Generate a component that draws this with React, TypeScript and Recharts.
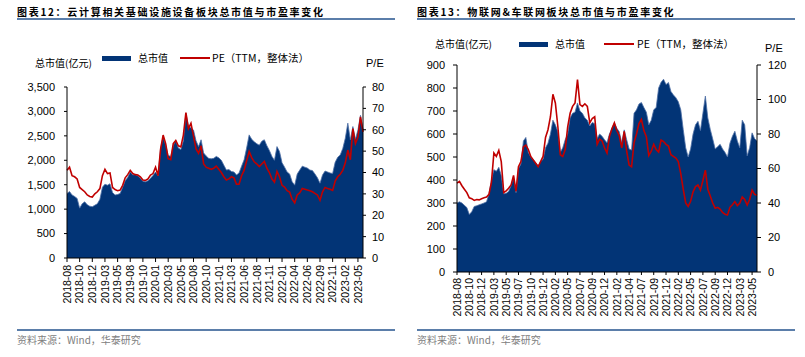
import React from 'react';
import { ComposedChart, Area, Line, XAxis, YAxis } from 'recharts';

// ---------- Chart 12 (cloud infrastructure) ----------
const cloudTickLabels = [
  '2018-08', '2018-10', '2018-12', '2019-03', '2019-05', '2019-08', '2019-10', '2020-01',
  '2020-03', '2020-05', '2020-08', '2020-10', '2021-01', '2021-03', '2021-06', '2021-08',
  '2021-11', '2022-01', '2022-04', '2022-06', '2022-09', '2022-11', '2023-02', '2023-05',
];
const cloudMarketCap = [
  1320, 1360, 1290, 1260, 1220, 1020, 1110, 1150, 1090, 1060,
  1050, 1080, 1110, 1200, 1450, 1510, 1490, 1520, 1340, 1290,
  1300, 1320, 1450, 1580, 1650, 1760, 1700, 1710, 1680, 1630,
  1570, 1560, 1580, 1630, 1690, 1760, 1680, 2250, 2480, 2320,
  2100, 2080, 2300, 2410, 2250, 2220, 2400, 2960, 2700, 2660,
  2620, 2400, 2280, 2420, 2150, 2090, 2040, 2030, 2040, 2080,
  2050, 2000, 1900, 1800, 1810, 1770, 1760, 1700, 1740, 1880,
  2010, 2250, 2520, 2430, 2380, 2340, 2310, 2390, 2420, 2300,
  2200, 2080, 2000, 2280, 2180, 1950, 1860, 1760, 1720, 1560,
  1490, 1720, 1800, 1880, 1860, 1840, 1800, 1790, 1720, 1640,
  1530, 1700, 1780, 1760, 1740, 1730, 1960, 2060, 2110, 2240,
  2450, 2760, 2420, 2690, 2430, 2620, 2920, 2630,
];
const cloudPE = [
  41, 42.5, 38.5, 38, 37, 33, 32, 31, 29.5, 28.8,
  28.5, 30, 31, 32.5, 38.5, 41.5, 39.5, 39.8, 33, 32,
  31.5, 31.8, 34, 37.5, 39, 41, 39.5, 39, 38.8, 38,
  36.5, 36.3, 37, 38.8, 39.5, 42.5, 38.5, 51, 57.5, 53.5,
  46.5, 46, 53.5, 55, 52.5, 52, 57.5, 68, 60.5, 63,
  57, 51, 49, 52.5, 44, 42.5, 42, 41.5, 42, 43,
  41.5, 40, 38, 36.5, 37, 38, 37.5, 34.5, 34.5, 38.5,
  41, 45.5, 49.8, 47, 45, 44, 42.8, 44, 45.2, 42,
  40, 37, 35.5, 40.5, 38, 34, 33.2, 31.5, 30.8, 27.5,
  25.8, 29.5, 30.5, 32.5, 32.2, 31.8, 31.5, 31, 30.2, 29.5,
  27, 31, 33, 32.5, 32.2, 31.6, 36, 38, 39.2, 41,
  44.5, 50.5, 46, 60.5, 53.5, 56.5, 66, 59,
];
const cloudCapTicks = [0, 500, 1000, 1500, 2000, 2500, 3000, 3500];
const cloudPETicks = [0, 10, 20, 30, 40, 50, 60, 70, 80];

// ---------- Chart 13 (IoT & IoV) ----------
const iotTickLabels = [
  '2018-08', '2018-10', '2018-12', '2019-03', '2019-05', '2019-07', '2019-10', '2019-12',
  '2020-02', '2020-05', '2020-07', '2020-09', '2020-12', '2021-02', '2021-04', '2021-07',
  '2021-09', '2021-12', '2022-02', '2022-05', '2022-07', '2022-09', '2022-12', '2023-03', '2023-05',
];
const iotMarketCap = [
  300, 305, 300, 290, 280, 250, 262, 285, 288, 292,
  296, 300, 305, 340, 400, 445, 438, 455, 420, 340,
  342, 350, 375, 415, 345, 450, 470, 570, 585, 520,
  500, 488, 475, 462, 480, 490, 540, 560, 600, 660,
  640, 610, 520, 540, 575, 600, 670, 690, 695, 735,
  700, 690, 670, 660, 635, 650, 645, 580, 600, 590,
  575, 562, 600, 625, 648, 625, 610, 562, 618, 575,
  535, 530, 690, 705, 730, 737, 715, 695, 640, 660,
  705, 715, 800, 825, 838, 815, 824, 785, 770, 758,
  740, 705, 620, 540, 500, 535, 600, 640, 655, 615,
  690, 765, 670, 620, 578, 535, 545, 555, 535, 520,
  500, 560, 590, 612, 570, 540, 660, 640, 505, 540,
  605, 580, 570,
];
const iotPE = [
  51.5, 52.5, 50, 48, 46, 43, 42.5, 41.5, 42, 41.8,
  42.5, 43, 43.5, 45, 52, 69, 67, 70.5, 64, 46,
  47, 48.5, 50.5, 56, 46.8, 61, 64, 72.5, 73.5, 71,
  67, 65, 63, 61, 64, 67, 78, 82.5, 90, 103,
  98, 84.5, 68, 67, 71, 84, 92, 96, 98, 111.5,
  97, 96, 97.5, 96, 86.5, 89, 90, 74, 77, 76,
  72, 69, 78.5, 83, 86.5, 82, 79, 72, 81.5, 70,
  62, 61, 75, 80, 86, 88.5, 82, 78.5, 67.5, 70,
  74, 71, 69.5, 76.5, 75.6, 74, 73, 68, 67, 66,
  64, 57, 48, 40, 38, 41, 46.5, 49.5, 50.5, 47.5,
  53, 59, 48, 44, 40, 37, 37.5, 36.5, 34.5, 33.5,
  33, 37.5, 39, 40.8, 38.5, 40, 43.5, 42, 38.8, 42,
  47.5, 45, 44.5,
];
const iotCapTicks = [0, 100, 200, 300, 400, 500, 600, 700, 800, 900];
const iotPETicks = [0, 20, 40, 60, 80, 100, 120];

const POINTS_PER_TICK = 5;
const NAVY = '#023476';
const RED = '#C00000';
const RULE = '#5b7eaa';
const LATIN = '"Liberation Sans", Arial, sans-serif';
const CJK = '"Noto Sans CJK SC", "Liberation Sans", sans-serif';

const buildData = (cap: number[], pe: number[]) =>
  cap.map((v, i) => ({ i, cap: v, pe: pe[i] }));

const RotTick = (props: any) => {
  const { x, y, payload, labels } = props;
  const idx = Math.round(payload.value / POINTS_PER_TICK);
  return (
    <g transform={`translate(${x},${y})`}>
      <text
        transform="rotate(-90)"
        textAnchor="end"
        dy="0.36em"
        fontSize={10.5}
        fill="#000"
        fontFamily={LATIN}
      >
        {labels[idx]}
      </text>
    </g>
  );
};

const txt = (left: number, cy: number, content: string, extra: React.CSSProperties = {}) => (
  <div
    style={{
      position: 'absolute',
      left,
      top: cy - 7,
      height: 14,
      lineHeight: '14px',
      whiteSpace: 'nowrap',
      fontSize: 10.5,
      color: '#000',
      fontFamily: CJK,
      ...extra,
    }}
  >
    {content}
  </div>
);

type PanelProps = {
  offsetX: number;
  width: number;
  title: string;
  ruleLeft: number;
  ruleRight: number;
  cap: number[];
  pe: number[];
  labels: string[];
  capTicks: number[];
  peTicks: number[];
  plotTop: number;
  plotBottom: number;
  leftAxisW: number;
  rightAxisW: number;
  leftTick: [number, number];
  rightTick: [number, number];
  xTick: [number, number];
  commas: boolean;
  legend: {
    unitX: number; unitY: number; swX: number; swY: number; capX: number; capY: number;
    lineX: number; lineY: number; peX: number; peY: number; pX: number; pY: number;
  };
};

const Panel = (p: PanelProps) => {
  const data = buildData(p.cap, p.pe);
  const n = p.cap.length;
  const xticks = p.labels.map((_, k) => k * POINTS_PER_TICK);
  const L = p.legend;
  return (
    <div style={{ position: 'absolute', left: p.offsetX, top: 0, width: p.width, height: 357 }}>
      {txt(17, 11.5, p.title, { fontWeight: 700, fontSize: 10, letterSpacing: 1.7 })}
      <div style={{ position: 'absolute', left: 17, top: 18, width: p.ruleRight - p.ruleLeft, height: 2, background: RULE }} />
      <div style={{ position: 'absolute', left: 17, top: 329, width: p.ruleRight - p.ruleLeft, height: 2, background: RULE }} />
      {txt(17, 339.5, '资料来源：Wind，华泰研究', { fontSize: 10, color: '#808080' })}

      {txt(L.unitX, L.unitY, '总市值(亿元)', { fontSize: 10 })}
      <div style={{ position: 'absolute', left: L.swX, top: L.swY, width: 29, height: 5, background: NAVY }} />
      {txt(L.capX, L.capY, '总市值', { fontSize: 10 })}
      <div style={{ position: 'absolute', left: L.lineX, top: L.lineY, width: 30, height: 2, background: RED }} />
      {txt(L.peX, L.peY, 'PE（TTM，整体法）', { fontSize: 10.5 })}
      {txt(L.pX, L.pY, 'P/E', { fontSize: 11, fontFamily: LATIN })}

      <div style={{ position: 'absolute', left: 0, top: 0 }}>
        <ComposedChart
          width={p.width}
          height={357}
          data={data}
          margin={{ top: p.plotTop, right: 0, bottom: 0, left: 0 }}
        >
          <XAxis
            dataKey="i"
            type="number"
            domain={[0, n - 1]}
            ticks={xticks}
            interval={0}
            height={357 - p.plotBottom}
            tickSize={p.xTick[0]}
            tickMargin={p.xTick[1]}
            tick={<RotTick labels={p.labels} />}
            axisLine={{ stroke: '#000' }}
            tickLine={{ stroke: '#000' }}
            allowDecimals={false}
          />
          <YAxis
            yAxisId="left"
            orientation="left"
            width={p.leftAxisW}
            domain={[p.capTicks[0], p.capTicks[p.capTicks.length - 1]]}
            ticks={p.capTicks}
            interval={0}
            tickSize={p.leftTick[0]}
            tickMargin={p.leftTick[1]}
            tickFormatter={(v: number) => (p.commas ? v.toLocaleString('en-US') : String(v))}
            tick={{ fontSize: 11, fill: '#000', fontFamily: LATIN }}
            axisLine={{ stroke: '#000' }}
            tickLine={{ stroke: '#000' }}
          />
          <YAxis
            yAxisId="right"
            orientation="right"
            width={p.rightAxisW}
            domain={[p.peTicks[0], p.peTicks[p.peTicks.length - 1]]}
            ticks={p.peTicks}
            interval={0}
            tickSize={p.rightTick[0]}
            tickMargin={p.rightTick[1]}
            tick={{ fontSize: 11, fill: '#000', fontFamily: LATIN }}
            axisLine={{ stroke: '#000' }}
            tickLine={{ stroke: '#000' }}
          />
          <Area
            yAxisId="left"
            type="linear"
            dataKey="cap"
            fill={NAVY}
            fillOpacity={1}
            stroke="#4f70a6"
            strokeWidth={0.8}
            dot={false}
            activeDot={false}
            isAnimationActive={false}
          />
          <Line
            yAxisId="right"
            type="linear"
            dataKey="pe"
            stroke={RED}
            strokeWidth={1.6}
            dot={false}
            activeDot={false}
            isAnimationActive={false}
          />
        </ComposedChart>
      </div>
    </div>
  );
};

export default function App() {
  return (
    <div style={{ position: 'absolute', left: 0, top: 0, width: 805, height: 357, background: '#fff', overflow: 'hidden' }}>
      <Panel
        offsetX={0}
        width={400}
        title="图表12：云计算相关基础设施设备板块总市值与市盈率变化"
        ruleLeft={17}
        ruleRight={395}
        cap={cloudMarketCap}
        pe={cloudPE}
        labels={cloudTickLabels}
        capTicks={cloudCapTicks}
        peTicks={cloudPETicks}
        plotTop={87}
        plotBottom={258}
        leftAxisW={67}
        rightAxisW={37}
        leftTick={[3, 9]}
        rightTick={[3, 6]}
        xTick={[4, 3]}
        commas={true}
        legend={{
          unitX: 35, unitY: 63, swX: 102, swY: 55.5, capX: 138, capY: 58,
          lineX: 180, lineY: 57, peX: 212, peY: 58, pX: 366, pY: 63,
        }}
      />
      <Panel
        offsetX={400}
        width={405}
        title="图表13：物联网&车联网板块总市值与市盈率变化"
        ruleLeft={17}
        ruleRight={395}
        cap={iotMarketCap}
        pe={iotPE}
        labels={iotTickLabels}
        capTicks={iotCapTicks}
        peTicks={iotPETicks}
        plotTop={65}
        plotBottom={272}
        leftAxisW={57}
        rightAxisW={48}
        leftTick={[4, 8]}
        rightTick={[4, 7]}
        xTick={[3, 3]}
        commas={false}
        legend={{
          unitX: 35, unitY: 43.5, swX: 119, swY: 41.5, capX: 155, capY: 44,
          lineX: 204, lineY: 43, peX: 237, peY: 44, pX: 365, pY: 48,
        }}
      />
    </div>
  );
}
